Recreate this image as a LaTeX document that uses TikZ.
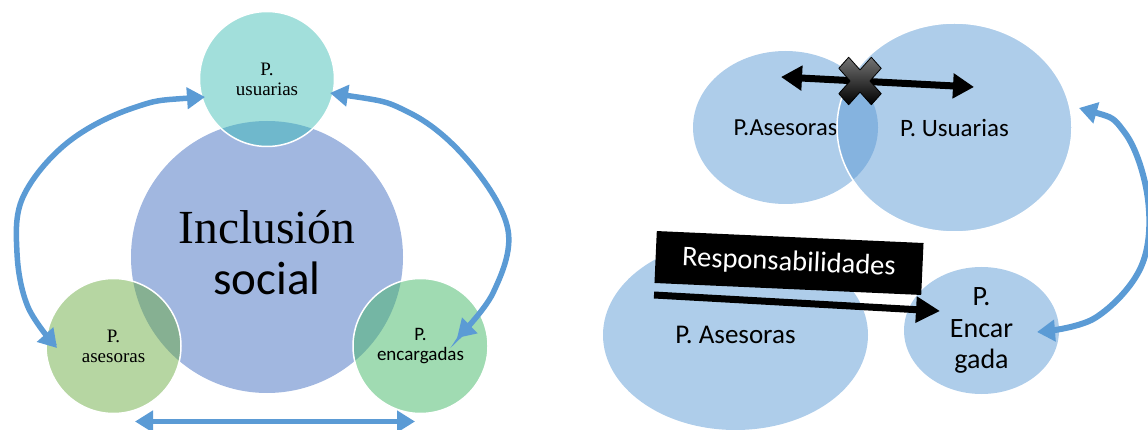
\documentclass[tikz,border=0pt]{standalone}
\usepackage{fontspec}
\newfontfamily\lserif{Liberation Serif}
\newfontfamily\lcarl{Carlito}
\usetikzlibrary{arrows.meta,shapes.geometric,calc}
\definecolor{bigblue}{HTML}{A1B7E0}
\definecolor{tealc}{HTML}{A2DFDB}
\definecolor{ovtop}{HTML}{6FB8CC}
\definecolor{lgreen}{HTML}{B6D6A2}
\definecolor{ovleft}{HTML}{86B092}
\definecolor{rgreen}{HTML}{A0DBB2}
\definecolor{ovright}{HTML}{74B6A4}
\definecolor{arrowblue}{HTML}{5B9BD5}
\definecolor{lblue}{HTML}{AECDEA}
\definecolor{ovblue}{HTML}{85B3DF}
\begin{document}
\begin{tikzpicture}[x=1pt,y=-1pt,
  circ/.style={circle, inner sep=0pt, outer sep=0pt, align=center},
  smalllab/.style={font=\lserif\fontsize{19}{20}\selectfont},
  ell/.style={ellipse, inner sep=0pt, outer sep=0pt, fill=lblue, align=center,
    font=\lcarl\fontsize{24.5}{29}\selectfont},
  ring/.style={draw=white, line width=1.5pt},
  barrow/.style={draw=arrowblue, line width=5.5pt,
    {Triangle[length=18pt,width=21pt]}-{Triangle[length=18pt,width=21pt]}},
  karrow/.style={draw=black, line width=7pt}]
\useasboundingbox (0,0) rectangle (1148,430);
\clip (0,0) rectangle (1148,430);

% ---------------- left diagram ----------------
\node[circ, fill=bigblue, minimum size=272pt] (inc) at (267,257) {};
\node[circ, fill=tealc, minimum size=135pt, smalllab] (usu) at (267,79) {P.\\usuarias};
\node[circ, fill=lgreen, minimum size=135pt, smalllab] (ase) at (113.5,346) {P.\\asesoras};
\node[circ, fill=rgreen, minimum size=135pt, font=\lcarl\fontsize{19}{20}\selectfont] (enc) at (420.5,346) {P.\\encargadas};

\begin{scope}\clip (usu.center) circle (67.5pt); \fill[ovtop] (inc.center) circle (136pt);\end{scope}
\begin{scope}\clip (ase.center) circle (67.5pt); \fill[ovleft] (inc.center) circle (136pt);\end{scope}
\begin{scope}\clip (enc.center) circle (67.5pt); \fill[ovright] (inc.center) circle (136pt);\end{scope}
\draw[ring] (usu.center) circle (67.5pt);
\draw[ring] (ase.center) circle (67.5pt);
\draw[ring] (enc.center) circle (67.5pt);

\node[anchor=base, inner sep=0pt, font=\lserif\fontsize{47.5}{50}\selectfont] (incA) at (267,243.4) {Inclusión};
\node[anchor=base, inner sep=0pt, font=\lcarl\fontsize{47}{50}\selectfont] (incB) at (267,294.7) {social};

\coordinate (la1) at ($(usu.center)+(-62,18)$);
\coordinate (la2) at ($(ase.center)+(-56.5,2)$);
\draw[barrow] plot[smooth, tension=0.6] coordinates {(la1) (133,108) (67,143) (23,197) (17,253) (28,307) (la2)};

\coordinate (ra1) at ($(usu.center)+(63,14)$);
\coordinate (ra2) at ($(enc.center)+(36.5,-8)$);
\draw[barrow] plot[smooth, tension=0.6] coordinates {(ra1) (410,113) (470,163) (508,230) (493,293) (ra2)};

\coordinate (ba1) at ($(ase.south)+(21.5,8)$);
\coordinate (ba2) at ($(enc.south)+(-5.5,8)$);
\draw[barrow] (ba1) -- (ba2);

% ---------------- right diagram ----------------
\node[ell, minimum width=185pt, minimum height=153pt] (asetop) at (785.5,127.5) {P.Asesoras};
\node[ell, minimum width=235pt, minimum height=209pt, font=\lcarl\fontsize{25}{29}\selectfont] (usutop) at (954.5,127.5) {P. Usuarias};
\begin{scope}
  \clip (usutop.center) ellipse [x radius=117.5pt, y radius=104.5pt];
  \fill[ovblue] (asetop.center) ellipse [x radius=92.5pt, y radius=76.5pt];
\end{scope}
\draw[ring] (usutop.center) ellipse [x radius=117.5pt, y radius=104.5pt];

\coordinate (ka1) at ($(asetop.center)+(-4.5,-50.5)$);
\coordinate (ka2) at ($(usutop.center)+(19.5,-40.5)$);
\draw[karrow, {Triangle[length=21pt,width=24pt]}-{Triangle[length=21pt,width=24pt]}] (ka1) -- (ka2);

\begin{scope}[shift={(860,81)}, yscale=1.12, rotate=45]
  \shadedraw[top color=black!55, bottom color=black, draw=black, line width=0.8pt, line join=round]
    (-7,-23) -- (7,-23) -- (7,-7) -- (23,-7) -- (23,7) -- (7,7) -- (7,23)
    -- (-7,23) -- (-7,7) -- (-23,7) -- (-23,-7) -- (-7,-7) -- cycle;
\end{scope}

\node[ell, minimum width=265pt, minimum height=190pt, font=\lcarl\fontsize{27}{31}\selectfont] (asebot) at (735.5,335) {P. Asesoras};
\node[ell, minimum width=155pt, minimum height=127pt,
  font=\lcarl\fontsize{28}{31.5}\selectfont] (encR) at (981.5,330.5) {P.\\Encar\\gada};

\node[fill=black, text=white, rotate=-2.57, minimum width=267pt, minimum height=52pt,
  inner sep=0pt, font=\lcarl\fontsize{28.5}{32}\selectfont] (resp) at (789,263) {Responsabilidades};

\coordinate (kb1) at ($(asebot.center)+(-81.5,-40)$);
\coordinate (kb2) at ($(encR.center)+(-41.5,-19.5)$);
\draw[karrow, -{Triangle[length=24pt,width=25pt]}] (kb1) -- (kb2);

\coordinate (rb1) at ($(usutop.center)+(124.5,-19.5)$);
\coordinate (rb2) at ($(encR.center)+(55.5,1.5)$);
\draw[barrow, line width=6pt] plot[smooth, tension=0.6] coordinates {(rb1) (1125,133) (1148,200) (1141,267) (1095,318) (rb2)};
\end{tikzpicture}
\end{document}
